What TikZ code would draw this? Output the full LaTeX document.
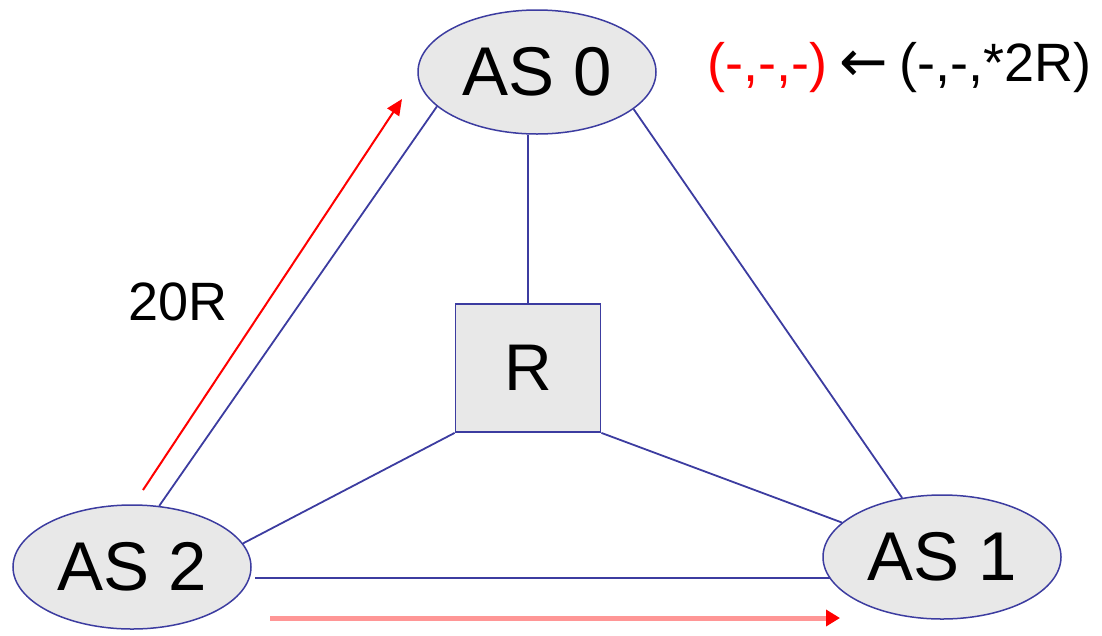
\documentclass[tikz,border=0pt]{standalone}
\usepackage{fontspec}
\setmainfont{Liberation Sans}
\newfontfamily\arrowfont{DejaVu Sans}
\usetikzlibrary{shapes.geometric,arrows.meta}
\definecolor{linkblue}{RGB}{60,60,160}
\definecolor{nodegray}{RGB}{232,232,232}
\definecolor{pinkred}{RGB}{255,150,150}
\begin{document}
\begin{tikzpicture}[x=1pt,y=-1pt,
  asnode/.style={ellipse,draw=linkblue,line width=1.5pt,fill=nodegray,minimum width=238pt,minimum height=124pt,inner sep=0pt,font=\fontsize{69}{80}\selectfont},
  rbox/.style={rectangle,draw=linkblue,line width=1.8pt,fill=nodegray,minimum width=145pt,minimum height=128pt,inner sep=0pt,font=\fontsize{66}{76}\selectfont},
  link/.style={draw=linkblue,line width=1.8pt},
  redarrow/.style={draw=red,line width=2pt,-{Triangle[length=16pt,width=14pt]}},
  pinkarrow/.style={draw=pinkred,line width=5pt,-{Triangle[length=14pt,width=16pt,fill=red,color=red]}},
  lbl/.style={font=\fontsize{54}{62}\selectfont,inner sep=0pt}]
\useasboundingbox (0,0) rectangle (1102,635);
\node[asnode] (as0) at (537,72) {AS 0};
\node[asnode] (as2) at (132,567) {AS 2};
\node[asnode] (as1) at (942,557) {AS 1};
\node[rbox] (r) at (528,368) {R};
\draw[link] (as0.south -| r.north) -- (r.north);
\draw[link] (as0.-21) -- (as1.124);
\draw[link] (as0.199) -- (as2.66);
\draw[link] (r.south west) -- (as2.12);
\draw[link] (r.south east) -- (as1.161);
\coordinate (hl) at (255,578);
\coordinate (hr) at (830,578);
\draw[link] (hl) -- (hr);
\coordinate (ra1) at (143,490);
\coordinate (ra2) at (402,99);
\draw[redarrow] (ra1) -- (ra2);
\coordinate (pa1) at (270,618);
\coordinate (pa2) at (840,618);
\draw[pinkarrow] (pa1) -- (pa2);
\node[lbl] (t20r) at (178,302) {20R};
\node[lbl,anchor=east] (rib) at (1092,68) {{\color{red}(-,-,-)}\hspace{12pt}{\arrowfont\fontsize{58}{62}\selectfont ←}\hspace{12pt}(-,-,*2R)};
\end{tikzpicture}
\end{document}
